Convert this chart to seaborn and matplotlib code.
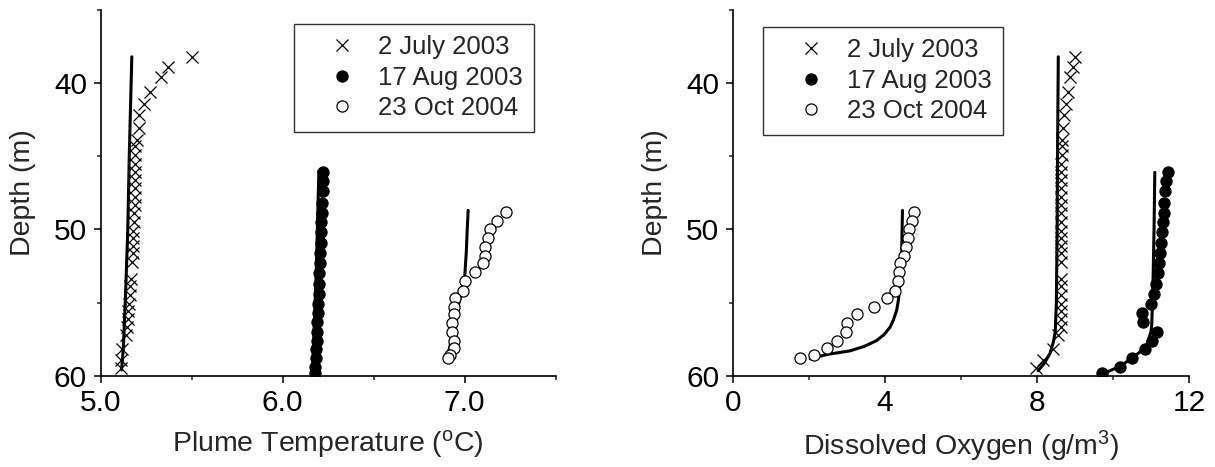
import matplotlib
matplotlib.use("Agg")
import matplotlib.pyplot as plt
import seaborn as sns
import numpy as np
from matplotlib.ticker import FixedLocator

# ---------------- data ----------------
labels = ["2 July 2003", "17 Aug 2003", "23 Oct 2004"]

july_depth = [38.2, 38.9, 39.6, 40.6, 41.4, 42.2, 43.1, 43.9, 44.3, 44.9, 45.5, 46.1,
              46.6, 47.2, 47.8, 48.3, 48.9, 49.5, 50.1, 50.6, 51.1, 51.6, 52.2, 53.4,
              53.9, 54.5, 55.1, 55.6, 56.1, 56.7, 57.2, 58.2, 58.9, 59.5]
july_temp = [5.50, 5.37, 5.33, 5.27, 5.24, 5.21, 5.21, 5.20, 5.19, 5.19, 5.19, 5.19,
             5.19, 5.19, 5.19, 5.19, 5.185, 5.185, 5.18, 5.18, 5.18, 5.18, 5.175, 5.165,
             5.16, 5.16, 5.155, 5.15, 5.15, 5.145, 5.14, 5.12, 5.11, 5.11]
july_do = [8.99, 8.94, 8.88, 8.82, 8.77, 8.72, 8.69, 8.67, 8.66, 8.65, 8.64, 8.64,
           8.63, 8.63, 8.62, 8.62, 8.62, 8.62, 8.62, 8.62, 8.62, 8.62, 8.62, 8.64,
           8.64, 8.64, 8.64, 8.64, 8.63, 8.62, 8.56, 8.42, 8.15, 7.97]

aug_depth = [46.1, 46.7, 47.4, 48.2, 48.9, 49.5, 50.2, 50.9, 51.6, 52.3, 53.0, 53.7,
             54.4, 55.1, 55.7, 56.3, 57.0, 57.6, 58.2, 58.8, 59.4, 59.8]
aug_temp = [6.22, 6.22, 6.22, 6.215, 6.215, 6.21, 6.21, 6.21, 6.205, 6.205, 6.20, 6.20,
            6.20, 6.195, 6.195, 6.19, 6.19, 6.19, 6.185, 6.185, 6.18, 6.18]
aug_do = [11.44, 11.40, 11.38, 11.35, 11.33, 11.31, 11.28, 11.25, 11.23, 11.21, 11.18, 11.14,
          11.07, 11.00, 10.77, 10.80, 11.15, 11.02, 10.84, 10.50, 10.19, 9.72]

oct_depth = [48.8, 49.4, 50.0, 50.6, 51.2, 51.8, 52.3, 52.9, 53.5, 54.2, 54.7, 55.3,
             55.8, 56.4, 57.0, 57.6, 58.1, 58.6, 58.8]
oct_temp = [7.23, 7.18, 7.14, 7.13, 7.11, 7.11, 7.10, 7.06, 7.00, 6.99, 6.95, 6.94,
            6.94, 6.93, 6.93, 6.94, 6.94, 6.92, 6.91]
oct_do = [4.77, 4.71, 4.64, 4.61, 4.56, 4.50, 4.40, 4.37, 4.33, 4.25, 4.04, 3.70,
          3.25, 3.01, 2.97, 2.73, 2.47, 2.13, 1.77]

# model curves
july_line_T_depth = [38.2, 45.0, 50.0, 55.0, 58.0, 59.6]
july_line_T = [5.172, 5.158, 5.150, 5.136, 5.126, 5.116]
aug_line_T_depth = [46.0, 53.0, 59.6]
aug_line_T = [6.200, 6.185, 6.165]
oct_line_T_depth = [48.7, 50.0, 51.5, 53.5, 55.0, 56.0, 57.0, 58.0, 58.7]
oct_line_T = [7.02, 7.015, 7.01, 7.00, 6.97, 6.95, 6.935, 6.92, 6.905]

july_line_DO_depth = [38.2, 45.0, 50.0, 55.0, 57.0, 57.7, 58.5, 59.2, 59.65]
july_line_DO = [8.56, 8.54, 8.53, 8.51, 8.48, 8.43, 8.34, 8.18, 8.03]
aug_line_DO_depth = [46.1, 50.0, 54.0, 56.5, 57.0, 57.8, 58.4, 58.9, 59.4, 59.85]
aug_line_DO = [11.10, 11.08, 11.05, 11.02, 11.00, 10.90, 10.70, 10.45, 10.15, 9.75]
oct_line_DO_depth = [48.7, 50.0, 51.5, 52.5, 53.7, 54.7, 55.5, 56.2, 56.7, 57.2, 57.6,
                     58.0, 58.3, 58.55, 58.85]
oct_line_DO = [4.46, 4.45, 4.44, 4.42, 4.39, 4.36, 4.31, 4.22, 4.13, 3.97, 3.78,
               3.45, 3.08, 2.47, 2.03]

# ---------------- style ----------------
sns.set_style("ticks")
plt.rcParams["font.family"] = ["Liberation Sans", "DejaVu Sans"]
plt.rcParams["mathtext.fontset"] = "custom"
plt.rcParams["mathtext.rm"] = "Liberation Sans"
plt.rcParams["mathtext.it"] = "Liberation Sans:italic"

TICK_FS = 21.5
LABEL_FS = 20.5
LEG_FS = 18.5

fig = plt.figure(figsize=(12.15, 4.67), dpi=100)
axL = fig.add_axes([100.5 / 1215, 91.3 / 467, 455 / 1215, 365.7 / 467])
axR = fig.add_axes([733 / 1215, 91.3 / 467, 456 / 1215, 365.7 / 467])


def draw(ax, xs_list, ys_list, line_x, line_y, leg_anchor, leg_loc):
    markers = [dict(marker="x", mfc="black", mec="black", mew=0.9, ms=8.5),
               dict(marker="o", mfc="black", mec="black", mew=0.9, ms=8),
               dict(marker="o", mfc="white", mec="black", mew=0.9, ms=8)]
    for lx, ly in zip(line_x, line_y):
        sns.lineplot(x=lx, y=ly, ax=ax, estimator=None, sort=False,
                     color="black", lw=2.2, zorder=2)
    for xs, ys, mk, lab in zip(xs_list, ys_list, markers, labels):
        sns.lineplot(x=xs, y=ys, ax=ax, estimator=None, sort=False,
                     linestyle="", color="black", zorder=3, label=lab, **mk)
    ax.set_ylim(60, 35)
    ax.yaxis.set_major_locator(FixedLocator([40, 50, 60]))
    ax.yaxis.set_minor_locator(FixedLocator([35, 45, 55]))
    ax.set_ylabel("Depth (m)", fontsize=LABEL_FS, labelpad=13)
    for s in ["top", "right"]:
        ax.spines[s].set_visible(False)
    for s in ["left", "bottom"]:
        ax.spines[s].set_linewidth(1.2)
        ax.spines[s].set_color("black")
    ax.tick_params(which="major", direction="out", length=5, width=1.1,
                   labelsize=TICK_FS, pad=4.8, colors="black")
    ax.tick_params(which="minor", direction="out", length=3, width=1.1)
    h, l = ax.get_legend_handles_labels()
    leg = ax.legend(h, l, loc=leg_loc, bbox_to_anchor=leg_anchor, borderaxespad=0,
                    fontsize=LEG_FS, frameon=True, fancybox=False, framealpha=1,
                    edgecolor="#333333", handlelength=2.86, handletextpad=-0.03,
                    labelspacing=0.25, borderpad=0.45, markerscale=1.0)
    leg.get_frame().set_linewidth(1.0)


draw(axL, [july_temp, aug_temp, oct_temp], [july_depth, aug_depth, oct_depth],
     [july_line_T, aug_line_T, oct_line_T],
     [july_line_T_depth, aug_line_T_depth, oct_line_T_depth],
     (0.953, 0.962), "upper right")
axL.set_xlim(5.0, 7.5)
axL.xaxis.set_major_locator(FixedLocator([5.0, 6.0, 7.0]))
axL.xaxis.set_minor_locator(FixedLocator([5.5, 6.5, 7.5]))
axL.set_xticklabels(["5.0", "6.0", "7.0"])
axL.set_xlabel(r"Plume Temperature ($\mathregular{^o}$C)", fontsize=LABEL_FS, labelpad=8)

draw(axR, [july_do, aug_do, oct_do], [july_depth, aug_depth, oct_depth],
     [july_line_DO, aug_line_DO, oct_line_DO],
     [july_line_DO_depth, aug_line_DO_depth, oct_line_DO_depth],
     (0.065, 0.954), "upper left")
axR.set_xlim(0, 12)
axR.xaxis.set_major_locator(FixedLocator([0, 4, 8, 12]))
axR.xaxis.set_minor_locator(FixedLocator([2, 6, 10]))
axR.set_xticklabels(["0", "4", "8", "12"])
axR.set_xlabel(r"Dissolved Oxygen (g/m$\mathregular{^3}$)", fontsize=LABEL_FS, labelpad=8)

fig.savefig("out.png", dpi=100)
